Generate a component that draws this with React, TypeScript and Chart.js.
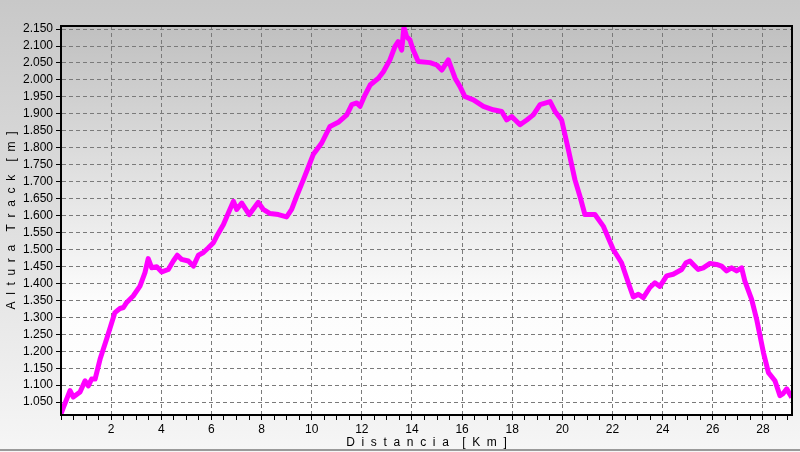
import React, { useEffect, useRef } from "react";
import { Chart, registerables } from "chart.js";

Chart.register(...registerables);

const distanceKm = [
  0.0, 0.1, 0.36, 0.49, 0.76, 0.96, 1.09, 1.22, 1.36, 1.56, 1.82, 2.15, 2.35, 2.49, 2.62, 2.88,
  3.15, 3.35, 3.48, 3.62, 3.82, 4.02, 4.28, 4.48, 4.64, 4.81, 5.08, 5.28, 5.48, 5.68, 5.88,
  6.08, 6.21, 6.48, 6.68, 6.88, 7.01, 7.21, 7.51, 7.87, 8.07, 8.34, 8.67, 9.0, 9.2, 9.4, 9.67,
  9.93, 10.06, 10.4, 10.73, 11.06, 11.4, 11.6, 11.8, 11.93, 12.13, 12.33, 12.66, 12.86, 13.12,
  13.32, 13.45, 13.59, 13.68, 13.79, 13.92, 14.05, 14.25, 14.72, 14.99, 15.19, 15.45, 15.72,
  15.92, 16.11, 16.45, 16.85, 17.24, 17.58, 17.78, 17.98, 18.31, 18.58, 18.84, 19.11, 19.51,
  19.71, 19.97, 20.24, 20.5, 20.7, 20.9, 21.3, 21.63, 22.03, 22.36, 22.63, 22.83, 23.03, 23.23,
  23.49, 23.69, 23.89, 24.16, 24.42, 24.76, 24.93, 25.09, 25.22, 25.42, 25.62, 25.89, 26.15,
  26.35, 26.55, 26.75, 26.95, 27.15, 27.28, 27.55, 27.75, 28.02, 28.22, 28.48, 28.68, 28.79,
  28.95, 29.15,
];

const altitudeM = [
  1015, 1035, 1084, 1065, 1080, 1113, 1098, 1118, 1118, 1177, 1236, 1314, 1326, 1329, 1344, 1363,
  1392, 1432, 1473, 1446, 1449, 1434, 1441, 1466, 1483, 1471, 1466, 1451, 1483, 1491, 1505,
  1520, 1539, 1574, 1608, 1642, 1618, 1637, 1603, 1639, 1618, 1606, 1603, 1596, 1618, 1657, 1706,
  1755, 1780, 1814, 1863, 1875, 1897, 1927, 1932, 1922, 1956, 1985, 2005, 2024, 2059,
  2098, 2113, 2088, 2155, 2127, 2118, 2088, 2054, 2051, 2044, 2029, 2059, 2005,
  1980, 1951, 1941, 1922, 1912, 1907, 1882, 1892, 1868, 1882, 1897, 1927, 1936,
  1907, 1882, 1794, 1706, 1657, 1603, 1603, 1569, 1500, 1461, 1402, 1360, 1368, 1358,
  1388, 1402, 1391, 1422, 1427, 1441, 1461, 1466, 1456, 1441, 1446, 1459, 1456,
  1451, 1437, 1446, 1437, 1446, 1407, 1353, 1294, 1196, 1137, 1113, 1069, 1074,
  1089, 1064,
];

const xTitle = "D  i  s  t  a  n  c  i  a    [  K  m  ]";
const yTitle = "A  l  t  u  r  a    T  r  a  c  k    [  m  ]";
const xMin = 0;
const xMax = 29.16;
const yMin = 1012;
const yMax = 2159;
const yStep = 50;
const xStep = 0.5;
const xLabelStep = 2;

const FONT = "'Liberation Sans', Arial, sans-serif";

const backgroundPlugin = {
  id: "bgPanels",
  beforeDraw(chart: any) {
    const { ctx, width, height, chartArea } = chart;
    ctx.save();
    const g = ctx.createLinearGradient(0, 0, 0, height);
    g.addColorStop(0, "#c8c8c8");
    g.addColorStop(1, "#f6f6f6");
    ctx.fillStyle = g;
    ctx.fillRect(0, 0, width, height);
    const a = chartArea;
    const g2 = ctx.createLinearGradient(0, a.top, 0, a.bottom);
    g2.addColorStop(0, "#c0c0c0");
    g2.addColorStop(0.45, "#e6e6e6");
    g2.addColorStop(0.7, "#fcfcfc");
    g2.addColorStop(1, "#ffffff");
    ctx.fillStyle = g2;
    ctx.fillRect(a.left, a.top, a.right - a.left, a.bottom - a.top);
    ctx.strokeStyle = "#9a9a9a";
    ctx.lineWidth = 2;
    ctx.beginPath();
    ctx.moveTo(0, height - 2);
    ctx.lineTo(width, height - 2);
    ctx.stroke();
    ctx.restore();
  },
  afterDraw(chart: any) {
    const { ctx, chartArea: a } = chart;
    ctx.save();
    ctx.strokeStyle = "#000";
    ctx.lineWidth = 2;
    ctx.strokeRect(a.left, a.top, a.right - a.left, a.bottom - a.top);
    ctx.restore();
  },
};

export default function App() {
  const ref = useRef<HTMLCanvasElement | null>(null);

  useEffect(() => {
    document.body.style.margin = "0";
    const canvas = ref.current;
    if (!canvas) return;
    const points = distanceKm.map((x, i) => ({ x, y: altitudeM[i] }));
    const chart = new Chart(canvas, {
      type: "line",
      data: {
        datasets: [
          {
            data: points,
            borderColor: "#ff00ff",
            borderWidth: 5,
            pointRadius: 0,
            tension: 0,
            fill: false,
            borderJoinStyle: "round",
          },
        ],
      },
      options: {
        animation: false,
        responsive: false,
        devicePixelRatio: 1,
        layout: { padding: { top: 26, right: 8, left: 0, bottom: 0 } },
        plugins: { legend: { display: false }, tooltip: { enabled: false } },
        scales: {
          x: {
            type: "linear",
            min: xMin,
            max: xMax,
            afterFit: (s: any) => {
              s.height = 37;
            },
            afterBuildTicks: (s: any) => {
              const t = [];
              for (let v = xMin; v <= xMax + 1e-9; v += xStep) t.push({ value: Math.round(v * 10) / 10 });
              s.ticks = t;
            },
            ticks: {
              autoSkip: false,
              maxRotation: 0,
              color: "#000",
              font: { family: FONT, size: 12 },
              padding: 2,
              callback: (v: any) => (v > 0 && Math.abs(v % xLabelStep) < 1e-6 ? String(v) : ""),
            },
            grid: {
              color: (c: any) =>
                c.tick && c.tick.value > 0 && Math.abs(c.tick.value % xLabelStep) < 1e-6 ? "#7a7a7a" : "rgba(0,0,0,0)",
              tickColor: "#000",
              tickLength: 5,
              tickBorderDash: [],
              lineWidth: 1,
            },
            border: { display: true, color: "#000", width: 2, dash: [4, 3] as any },
            title: {
              display: true,
              text: xTitle,
              color: "#000",
              font: { family: FONT, size: 12 },
              padding: { top: 0, bottom: 2 },
            },
          },
          y: {
            type: "linear",
            min: yMin,
            max: yMax,
            afterFit: (s: any) => {
              s.width = 61;
            },
            afterBuildTicks: (s: any) => {
              const t = [];
              for (let v = Math.ceil(yMin / yStep) * yStep; v <= yMax; v += yStep) t.push({ value: v });
              s.ticks = t;
            },
            ticks: {
              color: "#000",
              font: { family: FONT, size: 12 },
              padding: 3,
              callback: (v: any) => {
                const n = Number(v);
                const th = Math.floor(n / 1000);
                const rest = String(n % 1000).padStart(3, "0");
                return th + "." + rest;
              },
            },
            grid: {
              color: "#7a7a7a",
              tickColor: "#000",
              tickLength: 5,
              tickBorderDash: [],
              lineWidth: 1,
            },
            border: { display: true, color: "#000", width: 2 },
            title: {
              display: true,
              text: yTitle,
              color: "#000",
              font: { family: FONT, size: 12 },
              padding: { top: 4, bottom: 0 },
            },
          },
        },
      } as any,
      plugins: [backgroundPlugin],
    });
    (chart.options.scales as any).x.grid.borderDash = [4, 3];
    (chart.options.scales as any).y.grid.borderDash = [4, 3];
    (chart.options.scales as any).x.border.dash = [4, 3];
    (chart.options.scales as any).y.border.dash = [4, 3];
    chart.update();
    return () => chart.destroy();
  }, []);

  return <canvas ref={ref} width={800} height={452} style={{ display: "block" }} />;
}
